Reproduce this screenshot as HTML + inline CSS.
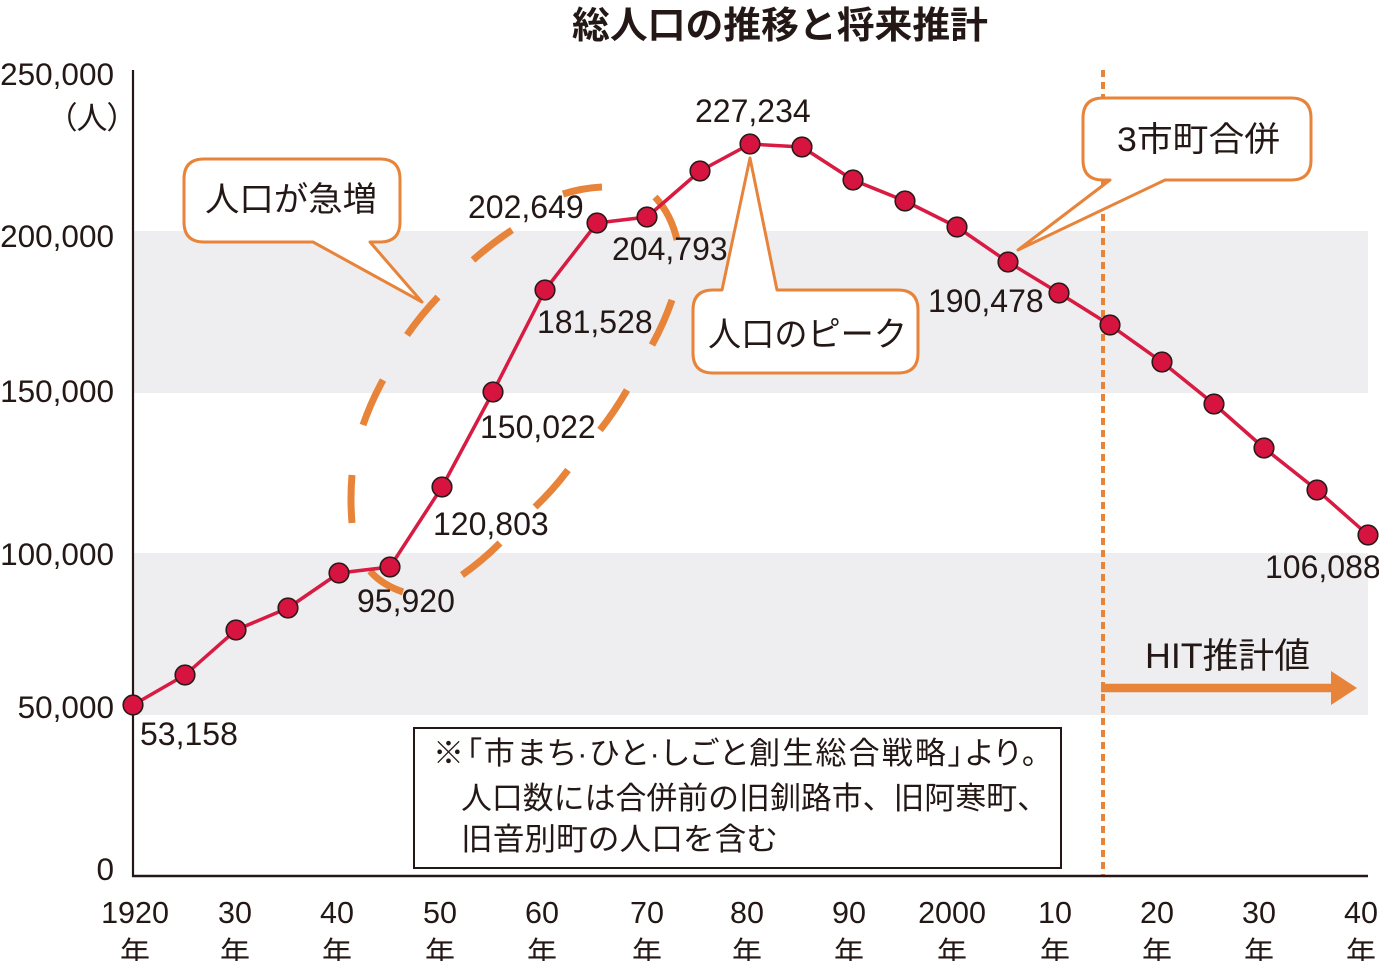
<!DOCTYPE html>
<html><head><meta charset="utf-8">
<style>
html,body{margin:0;padding:0;background:#fff;}
svg{display:block;}
.n{font-family:"Liberation Sans","Noto Sans CJK JP",sans-serif;fill:#231815;}
.j{font-family:"Liberation Sans","Noto Sans CJK JP",sans-serif;fill:#231815;}
.palt{font-feature-settings:"palt";}
</style></head>
<body>
<svg width="1379" height="961" viewBox="0 0 1379 961" xmlns="http://www.w3.org/2000/svg">
<rect width="1379" height="961" fill="#fff"/>
<!-- grey bands -->
<rect x="134" y="231" width="1234" height="162" fill="#eeeef0"/>
<rect x="134" y="553" width="1234" height="162" fill="#eeeef0"/>

<!-- title -->
<text class="j" x="572" y="38" font-size="37" font-weight="700" textLength="416" lengthAdjust="spacingAndGlyphs">総人口の推移と将来推計</text>

<!-- y labels -->
<g class="n" font-size="31.5" text-anchor="end">
<text x="114" y="85">250,000</text>
<text x="114" y="247">200,000</text>
<text x="114" y="402">150,000</text>
<text x="114" y="565">100,000</text>
<text x="114" y="718">50,000</text>
<text x="114" y="880">0</text>
</g>
<text class="j palt" x="123" y="129" font-size="31" text-anchor="end">（人）</text>

<!-- dashed ellipse -->
<g stroke="#e8833a" stroke-width="7" fill="none" stroke-linecap="butt">
<path d="M352,523 Q350,499 352,475"/>
<path d="M363,425 Q371,402 383,380"/>
<path d="M407,335 Q421,315 438,297"/>
<path d="M473,260 Q491,244 512,230"/>
<path d="M563,194 Q582,188 602,187"/>
<path d="M655,197 Q671,214 677,240"/>
<path d="M672,300 Q664,323 652,345"/>
<path d="M627,390 Q615,411 600,430"/>
<path d="M568,470 Q553,490 535,507"/>
<path d="M500,543 Q482,561 462,575"/>
<path d="M403,592 Q382,585 370,571"/>
</g>

<!-- dotted vertical line -->
<line x1="1103" y1="70" x2="1103" y2="876" stroke="#e8833a" stroke-width="4" stroke-dasharray="7 5"/>

<!-- axes -->
<line x1="133" y1="70" x2="133" y2="877" stroke="#231815" stroke-width="2.2"/>
<line x1="132" y1="876" x2="1368" y2="876" stroke="#231815" stroke-width="2.6"/>

<!-- callouts -->
<g fill="#fff" stroke="#e8833a" stroke-width="3" stroke-linejoin="round">
<path d="M204,159 H380 Q400,159 400,179 V222 Q400,242 380,242 H370 L422,302 L313,242 H204 Q184,242 184,222 V179 Q184,159 204,159 Z"/>
<path d="M713,290 H722 L750,158 L777,290 H898 Q918,290 918,310 V353 Q918,373 898,373 H713 Q693,373 693,353 V310 Q693,290 713,290 Z"/>
<path d="M1103,98 H1291 Q1311,98 1311,118 V160 Q1311,180 1291,180 H1165 L1018,250 L1110,180 H1103 Q1083,180 1083,160 V118 Q1083,98 1103,98 Z"/>
</g>
<text class="j" x="205" y="211" font-size="34" textLength="172" lengthAdjust="spacingAndGlyphs">人口が急増</text>
<text class="j" x="708" y="346" font-size="34" textLength="199" lengthAdjust="spacingAndGlyphs">人口のピーク</text>
<text class="j" x="1117" y="151" font-size="34" textLength="163" lengthAdjust="spacingAndGlyphs">3市町合併</text>

<!-- data line -->
<polyline fill="none" stroke="#d81b42" stroke-width="3.5" stroke-linejoin="round"
points="133,705 185,675 236,630 288,608 339,573 390,567 442,487 493,392 545,290 597,223 647,217 700,171 750,144 802,147 853,180 905,201 957,227 1008,262 1059,293 1110,325 1162,362 1214,404 1264,448 1317,490 1368,535"/>
<g fill="#d7143f" stroke="#2a1a1a" stroke-width="1.6">
<circle cx="133" cy="705" r="9.8"/><circle cx="185" cy="675" r="9.8"/><circle cx="236" cy="630" r="9.8"/>
<circle cx="288" cy="608" r="9.8"/><circle cx="339" cy="573" r="9.8"/><circle cx="390" cy="567" r="9.8"/>
<circle cx="442" cy="487" r="9.8"/><circle cx="493" cy="392" r="9.8"/><circle cx="545" cy="290" r="9.8"/>
<circle cx="597" cy="223" r="9.8"/><circle cx="647" cy="217" r="9.8"/><circle cx="700" cy="171" r="9.8"/>
<circle cx="750" cy="144" r="9.8"/><circle cx="802" cy="147" r="9.8"/><circle cx="853" cy="180" r="9.8"/>
<circle cx="905" cy="201" r="9.8"/><circle cx="957" cy="227" r="9.8"/><circle cx="1008" cy="262" r="9.8"/>
<circle cx="1059" cy="293" r="9.8"/><circle cx="1110" cy="325" r="9.8"/><circle cx="1162" cy="362" r="9.8"/>
<circle cx="1214" cy="404" r="9.8"/><circle cx="1264" cy="448" r="9.8"/><circle cx="1317" cy="490" r="9.8"/>
<circle cx="1368" cy="535" r="9.8"/>
</g>

<!-- data labels -->
<g class="n" font-size="32">
<text x="140" y="745">53,158</text>
<text x="357" y="612">95,920</text>
<text x="433" y="535">120,803</text>
<text x="480" y="438">150,022</text>
<text x="537" y="333">181,528</text>
<text x="468" y="218">202,649</text>
<text x="612" y="260">204,793</text>
<text x="695" y="122">227,234</text>
<text x="928" y="312">190,478</text>
<text x="1265" y="578">106,088</text>
</g>

<!-- HIT arrow -->
<text class="j" x="1145" y="668" font-size="35" textLength="165" lengthAdjust="spacingAndGlyphs">HIT推計値</text>
<line x1="1101" y1="688" x2="1333" y2="688" stroke="#e8833a" stroke-width="8.5"/>
<polygon points="1331,671 1357,688 1331,705" fill="#e8833a"/>

<!-- note box -->
<rect x="414" y="728" width="647" height="140" fill="#fff" stroke="#231815" stroke-width="2"/>
<g class="j" font-size="31">
<text class="palt" x="433" y="764" textLength="604" lengthAdjust="spacing">※「市まち·ひと·しごと創生総合戦略」より。</text>
<text x="461" y="809" textLength="587" lengthAdjust="spacingAndGlyphs">人口数には合併前の旧釧路市、旧阿寒町、</text>
<text x="461" y="850" textLength="317" lengthAdjust="spacingAndGlyphs">旧音別町の人口を含む</text>
</g>

<!-- x tick labels -->
<g class="n" font-size="30.5" text-anchor="middle">
<text x="135" y="923">1920</text>
<text x="235" y="923">30</text>
<text x="337" y="923">40</text>
<text x="440" y="923">50</text>
<text x="542" y="923">60</text>
<text x="647" y="923">70</text>
<text x="747" y="923">80</text>
<text x="849" y="923">90</text>
<text x="952" y="923">2000</text>
<text x="1055" y="923">10</text>
<text x="1157" y="923">20</text>
<text x="1259" y="923">30</text>
<text x="1361" y="923">40</text>
</g>
<g class="j" font-size="30" text-anchor="middle">
<text x="135" y="963">年</text>
<text x="235" y="963">年</text>
<text x="337" y="963">年</text>
<text x="440" y="963">年</text>
<text x="542" y="963">年</text>
<text x="647" y="963">年</text>
<text x="747" y="963">年</text>
<text x="849" y="963">年</text>
<text x="952" y="963">年</text>
<text x="1055" y="963">年</text>
<text x="1157" y="963">年</text>
<text x="1259" y="963">年</text>
<text x="1361" y="963">年</text>
</g>
</svg>
</body></html>
